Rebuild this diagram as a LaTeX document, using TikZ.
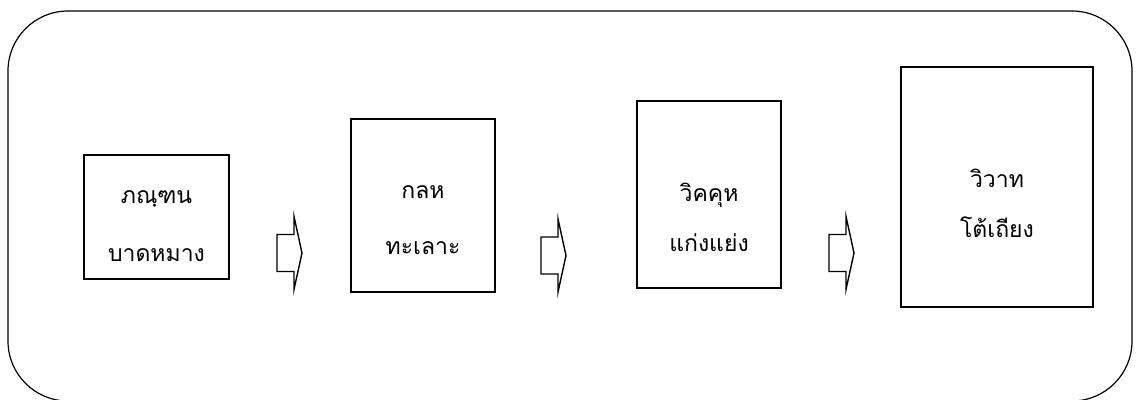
\documentclass[tikz,border=0pt]{standalone}
\usepackage{fontspec}
\newfontfamily\thaifont[Script=Thai]{Loma}

\tikzset{
  stage/.style={draw, line width=1.4pt, inner sep=0pt},
  stagetext/.style={font=\thaifont\fontsize{23}{#1}\selectfont, align=center},
  stagetext/.default=54,
  fwdarrow/.pic={
    \draw[line width=1.4pt] (0,-18.5) -- (17,-18.5) -- (17,-36.5) -- (25,0)
      -- (17,36.5) -- (17,18.5) -- (0,18.5) -- cycle;
  }
}

\begin{document}
\begin{tikzpicture}[x=1pt, y=-1pt]
  \useasboundingbox (0,0) rectangle (1137,399);

  % Marco exterior
  \draw[line width=1.2pt, rounded corners=60pt] (8,11) rectangle (1132,401);

  % Etapas
  \node[stage, minimum width=145pt, minimum height=124pt] (b1) at (156.5,217) {};
  \node[stage, minimum width=144pt, minimum height=173pt] (b2) at (423,205.5) {};
  \node[stage, minimum width=144pt, minimum height=187pt] (b3) at (709,194.5) {};
  \node[stage, minimum width=192pt, minimum height=240pt] (b4) at (997,187) {};

  \node[stagetext=58] (t1) at (156.5,226) {ภณฺฑน\\บาดหมาง};
  \node[stagetext=56] (t2) at (423,220) {กลห\\ทะเลาะ};
  \node[stagetext=50] (t3) at (709,217) {วิคคุห\\แก่งแย่ง};
  \node[stagetext=50] (t4) at (997,203) {วิวาท\\โต้เถียง};

  % Flechas de bloque
  \pic (a1) at (277,253) {fwdarrow};
  \pic (a2) at (541,255.5) {fwdarrow};
  \pic (a3) at (829,253) {fwdarrow};
\end{tikzpicture}
\end{document}
